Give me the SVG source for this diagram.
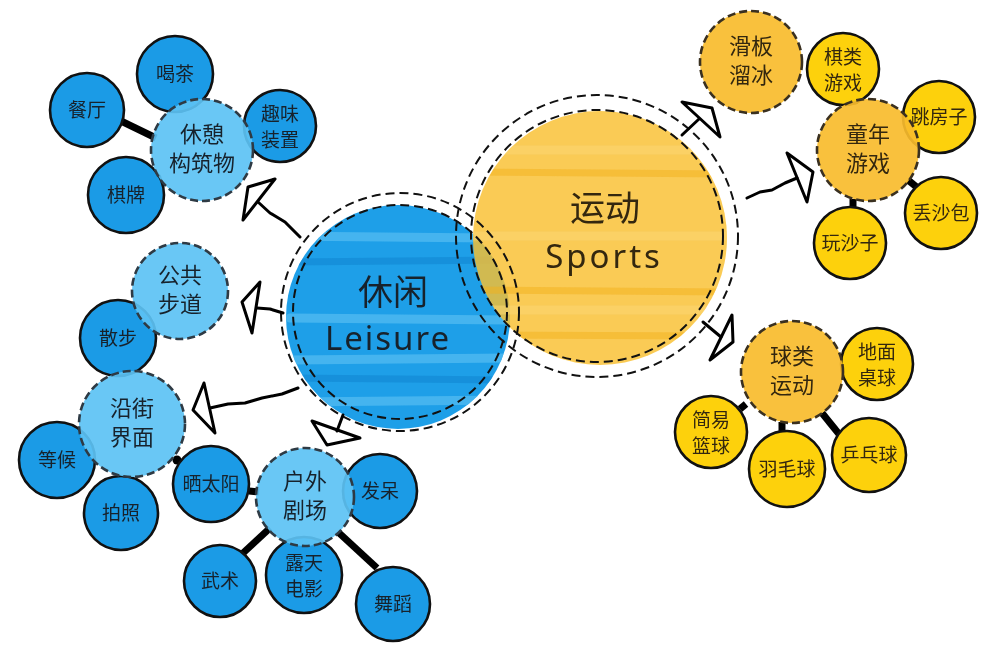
<svg xmlns="http://www.w3.org/2000/svg" width="1000" height="648" viewBox="0 0 1000 648">
<defs>
<style>
.leafB{fill:#1b9be6;stroke:#111;stroke-width:2.6}
.subB{fill:#5cc2f4;fill-opacity:0.92;stroke:#2e3a44;stroke-width:2.6;stroke-dasharray:8 4}
.leafY{fill:#fdd10c;stroke:#111;stroke-width:2.6}
.subY{fill:#f8bc2c;fill-opacity:0.92;stroke:#3a3020;stroke-width:2.6;stroke-dasharray:8 4}
.ring{fill:none;stroke:#111;stroke-width:2;stroke-dasharray:9 5}
.tB{font-family:"Noto Sans CJK SC","Noto Sans",sans-serif;fill:#17222c;text-anchor:middle}
.tY{font-family:"Noto Sans CJK SC","Noto Sans",sans-serif;fill:#33270f;text-anchor:middle}
.s19{font-size:19px}
.s22{font-size:22px}
.big{font-size:35px}
.lat{font-family:"Noto Sans","DejaVu Sans",sans-serif;font-size:33px;font-weight:400}
.bar{stroke:#000;stroke-width:7;stroke-linecap:butt;fill:none}
.arw{fill:none;stroke:#000;stroke-width:3;stroke-linejoin:round;stroke-linecap:round}
.stB1{stroke:#4fbaf1;stroke-width:9;stroke-linecap:round;opacity:0.8}
.stB2{stroke:#1188d2;stroke-width:7;stroke-linecap:round;opacity:0.6}
.stY1{stroke:#fcd772;stroke-width:9;stroke-linecap:round;opacity:0.7}
.stY2{stroke:#f2af1c;stroke-width:7;stroke-linecap:round;opacity:0.6}
</style>
<clipPath id="cL"><circle cx="398" cy="317" r="112"/></clipPath>
<clipPath id="cS"><circle cx="600" cy="238" r="127"/></clipPath>
</defs>
<rect width="1000" height="648" fill="#fff"/>

<g id="leisure">
<circle cx="398" cy="317" r="112" fill="#1e9fe8"/>
<g clip-path="url(#cL)">
<line class="stB1" x1="290" y1="236" x2="505" y2="238"/>
<line class="stB2" x1="290" y1="262" x2="510" y2="260"/>
<line class="stB1" x1="290" y1="318" x2="510" y2="320"/>
<line class="stB1" x1="290" y1="360" x2="510" y2="358"/>
<line class="stB2" x1="290" y1="378" x2="510" y2="380"/>
<line class="stB1" x1="290" y1="402" x2="510" y2="400"/>
</g>
</g>
<g id="sports">
<circle cx="600" cy="238" r="127" fill="#f9bf30" fill-opacity="0.82"/>
<g clip-path="url(#cS)" opacity="0.8">
<line class="stY1" x1="470" y1="150" x2="735" y2="150"/>
<line class="stY2" x1="470" y1="172" x2="735" y2="174"/>
<line class="stY1" x1="470" y1="236" x2="735" y2="236"/>
<line class="stY2" x1="470" y1="290" x2="735" y2="292"/>
<line class="stY1" x1="470" y1="310" x2="735" y2="310"/>
<line class="stY2" x1="470" y1="335" x2="735" y2="336"/>
</g>
</g>
<g id="rings">
<circle class="ring" cx="400" cy="312" r="107"/>
<circle class="ring" cx="400" cy="312" r="119"/>
<circle class="ring" cx="597" cy="236" r="126"/>
<circle class="ring" cx="597" cy="236" r="141"/>
</g>
<g id="leisure-label">
<text class="tB big" x="393" y="305">休闲</text>
<text class="tB lat" x="388" y="350" letter-spacing="2">Leisure</text>
</g>
<g id="sports-label">
<text class="tY big" x="605" y="221">运动</text>
<text class="tY lat" x="604" y="268" letter-spacing="3">Sports</text>
</g>

<g id="connectors">
<line class="bar" x1="121" y1="121" x2="156" y2="138"/>
<circle cx="157" cy="178" r="4.5" fill="#000"/>
<circle cx="177" cy="460" r="4.5" fill="#000"/>
<circle cx="125" cy="480" r="4.5" fill="#000"/>
<line class="bar" x1="249" y1="491" x2="259" y2="492"/>
<line class="bar" x1="270" y1="528" x2="242" y2="554"/>
<line class="bar" x1="338" y1="532" x2="377" y2="568"/>
<circle cx="855" cy="100" r="4.5" fill="#000"/>
<line class="bar" x1="908" y1="180" x2="919" y2="189"/>
<line class="bar" x1="853" y1="199" x2="853" y2="211"/>
<line class="bar" x1="822" y1="413" x2="843" y2="439"/>
<line class="bar" x1="782" y1="422" x2="782" y2="438"/>
<line class="bar" x1="746" y1="404" x2="740" y2="409"/>
<path class="arw" d="M300,237 L285,222 L270,213 L258,202"/>
<path class="arw" d="M275,179 L248,187 L243,220 Z"/>
<path class="arw" d="M283,313 L270,309 L257,308"/>
<path class="arw" d="M260,282 L242,302 L252,333 Z"/>
<path class="arw" d="M298,388 L282,394 L262,398 L245,403 L228,404 L210,408"/>
<path class="arw" d="M204,383 L193,410 L215,433 Z"/>
<path class="arw" d="M343,415 L337,431"/>
<path class="arw" d="M312,421 L327,445 L360,438 Z"/>
<path class="arw" d="M682,135 L699,119"/>
<path class="arw" d="M682,102 L712,108 L720,137 Z"/>
<path class="arw" d="M747,198 L760,192 L772,190 L785,183 L797,178"/>
<path class="arw" d="M787,153 L813,172 L807,202 Z"/>
<path class="arw" d="M703,322 L721,337"/>
<path class="arw" d="M732,315 L733,342 L710,360 Z"/>
</g>

<g id="n-hecha"><circle class="leafB" cx="175" cy="74" r="38"/><text class="tB s19" x="175" y="81">喝茶</text></g>
<g id="n-canting"><circle class="leafB" cx="87" cy="110" r="37"/><text class="tB s19" x="87" y="117">餐厅</text></g>
<g id="n-quwei"><circle class="leafB" cx="280" cy="126" r="36"/><text class="tB s19" x="280" y="121">趣味</text><text class="tB s19" x="280" y="147">装置</text></g>
<g id="n-qipai"><circle class="leafB" cx="126" cy="195" r="38"/><text class="tB s19" x="126" y="202">棋牌</text></g>
<g id="n-xiuqi"><circle class="subB" cx="202" cy="150" r="51"/><text class="tB s22" x="202" y="142">休憩</text><text class="tB s22" x="202" y="171">构筑物</text></g>

<g id="n-sanbu"><circle class="leafB" cx="118" cy="338" r="38"/><text class="tB s19" x="118" y="345">散步</text></g>
<g id="n-gonggong"><circle class="subB" cx="180" cy="291" r="48"/><text class="tB s22" x="180" y="283">公共</text><text class="tB s22" x="180" y="312">步道</text></g>

<g id="n-denghou"><circle class="leafB" cx="57" cy="460" r="38"/><text class="tB s19" x="57" y="467">等候</text></g>
<g id="n-paizhao"><circle class="leafB" cx="121" cy="513" r="37"/><text class="tB s19" x="121" y="520">拍照</text></g>
<g id="n-shaitaiyang"><circle class="leafB" cx="211" cy="484" r="38"/><text class="tB s19" x="211" y="491">晒太阳</text></g>
<g id="n-yanjie"><circle class="subB" cx="132" cy="424" r="53"/><text class="tB s22" x="132" y="416">沿街</text><text class="tB s22" x="132" y="445">界面</text></g>

<g id="n-fadai"><circle class="leafB" cx="380" cy="491" r="37"/><text class="tB s19" x="380" y="498">发呆</text></g>
<g id="n-wushu"><circle class="leafB" cx="220" cy="581" r="36"/><text class="tB s19" x="220" y="588">武术</text></g>
<g id="n-lutian"><circle class="leafB" cx="304" cy="575" r="38"/><text class="tB s19" x="304" y="570">露天</text><text class="tB s19" x="304" y="596">电影</text></g>
<g id="n-wudao"><circle class="leafB" cx="393" cy="604" r="37"/><text class="tB s19" x="393" y="611">舞蹈</text></g>
<g id="n-huwai"><circle class="subB" cx="305" cy="497" r="49"/><text class="tB s22" x="305" y="489">户外</text><text class="tB s22" x="305" y="518">剧场</text></g>

<g id="n-huaban"><circle class="subY" cx="751" cy="62" r="51"/><text class="tY s22" x="751" y="54">滑板</text><text class="tY s22" x="751" y="83">溜冰</text></g>
<g id="n-qilei"><circle class="leafY" cx="843" cy="69" r="36"/><text class="tY s19" x="843" y="64">棋类</text><text class="tY s19" x="843" y="90">游戏</text></g>
<g id="n-tiaofang"><circle class="leafY" cx="939" cy="117" r="36"/><text class="tY s19" x="939" y="124">跳房子</text></g>
<g id="n-diushabao"><circle class="leafY" cx="941" cy="213" r="36"/><text class="tY s19" x="941" y="220">丢沙包</text></g>
<g id="n-wanshazi"><circle class="leafY" cx="850" cy="243" r="36"/><text class="tY s19" x="850" y="250">玩沙子</text></g>
<g id="n-tongnian"><circle class="subY" cx="868" cy="150" r="51"/><text class="tY s22" x="868" y="142">童年</text><text class="tY s22" x="868" y="171">游戏</text></g>

<g id="n-dimian"><circle class="leafY" cx="877" cy="364" r="36"/><text class="tY s19" x="877" y="359">地面</text><text class="tY s19" x="877" y="385">桌球</text></g>
<g id="n-jianyi"><circle class="leafY" cx="711" cy="432" r="36"/><text class="tY s19" x="711" y="427">简易</text><text class="tY s19" x="711" y="453">篮球</text></g>
<g id="n-yumao"><circle class="leafY" cx="787" cy="469" r="38"/><text class="tY s19" x="787" y="476">羽毛球</text></g>
<g id="n-pingpang"><circle class="leafY" cx="869" cy="455" r="37"/><text class="tY s19" x="869" y="462">乒乓球</text></g>
<g id="n-qiulei"><circle class="subY" cx="792" cy="372" r="51"/><text class="tY s22" x="792" y="364">球类</text><text class="tY s22" x="792" y="393">运动</text></g>
</svg>
